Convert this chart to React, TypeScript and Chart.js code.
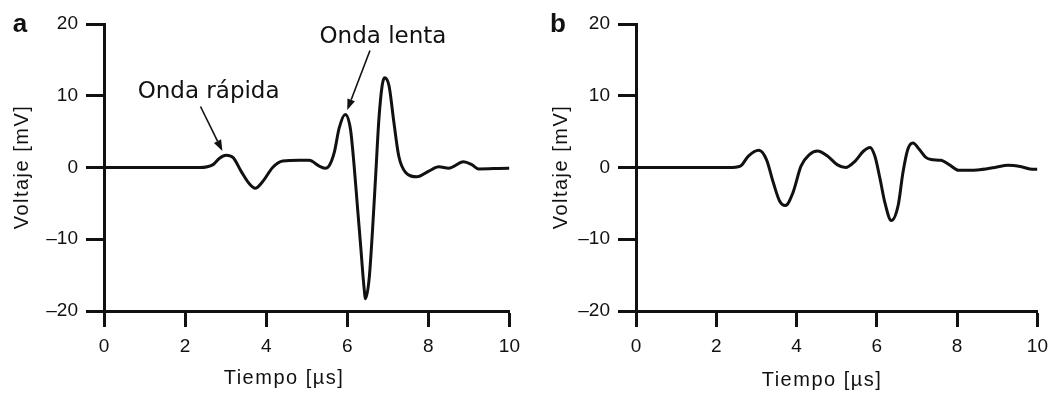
import React, { useEffect, useRef } from "react";
import { Chart, registerables } from "chart.js";

Chart.register(...registerables);

// ---- Data ----
const timeA = [0, 2.36, 2.69, 2.85, 3.01, 3.18, 3.38, 3.59, 3.73, 3.91, 4.16, 4.41, 4.82, 5.06, 5.31, 5.47, 5.55, 5.68, 5.8, 5.95, 6.08, 6.17, 6.25, 6.33, 6.41, 6.45, 6.54, 6.62, 6.7, 6.78, 6.86, 6.92, 7.03, 7.15, 7.27, 7.44, 7.72, 8.01, 8.26, 8.5, 8.87, 9.07, 9.24, 9.98, 10];
const voltA = [0, 0, 0.4, 1.3, 1.7, 1.4, -0.5, -2.3, -2.9, -2.0, 0, 0.9, 1.0, 1.0, 0.2, -0.1, 0.2, 2.1, 5.5, 7.4, 5.3, 0.2, -5.4, -10.9, -16.5, -18.3, -15.5, -9.0, -1.2, 6.7, 11.4, 12.5, 11.4, 6.3, 1.6, -0.7, -1.3, -0.5, 0.1, -0.1, 0.8, 0.4, -0.2, -0.1, -0.1];

const timeB = [0, 2.31, 2.6, 2.8, 3.06, 3.25, 3.42, 3.58, 3.72, 3.91, 4.11, 4.32, 4.52, 4.77, 5.01, 5.22, 5.46, 5.67, 5.83, 5.95, 6.08, 6.2, 6.36, 6.53, 6.65, 6.77, 6.9, 7.06, 7.22, 7.35, 7.6, 7.8, 8.04, 8.5, 8.94, 9.27, 9.6, 9.88, 10];
const voltB = [0, 0, 0.2, 1.6, 2.4, 1.1, -2.1, -4.7, -5.3, -3.5, 0.2, 1.8, 2.3, 1.6, 0.4, 0, 0.9, 2.3, 2.8, 1.6, -1.6, -4.9, -7.4, -5.3, -0.7, 2.5, 3.4, 2.5, 1.4, 1.1, 1.0, 0.4, -0.4, -0.35, 0, 0.3, 0.1, -0.25, -0.25];

const xMin = 0;
const xMax = 10;
const xStep = 2;
const yMin = -20;
const yMax = 20;
const yStep = 10;

const panelLabels = ["a", "b"];
const xTitle = "Tiempo [µs]";
const yTitle = "Voltaje [mV]";

const annotationTextsA = ["Onda rápida", "Onda lenta"];
const annotationTextX = [2.58, 6.88];
const annotationTextY = [9.65, 17.3];
const arrowFromX = [2.38, 6.56];
const arrowFromY = [8.5, 16.3];
const arrowToX = [2.92, 6.0];
const arrowToY = [2.3, 8.0];

// ---- Layout (pixel geometry, per panel) ----
type PanelGeom = {
  left: number;
  right: number;
  top: number;
  bottom: number;
  yTitleX: number;
  yTitleY: number;
  xTitleX: number;
  xTitleY: number;
  labelX: number;
  labelY: number;
};

const W = 528;
const H = 394;
const INK = "#111111";

const geomA: PanelGeom = { left: 104, right: 511, top: 24, bottom: 311, yTitleX: 28, yTitleY: 167, xTitleX: 284, xTitleY: 384, labelX: 20, labelY: 32 };
const geomB: PanelGeom = { left: 108, right: 515, top: 24, bottom: 311, yTitleX: 39, yTitleY: 167, xTitleX: 294, xTitleY: 386, labelX: 30, labelY: 32 };

function fmtTick(v: number | string): string {
  const n = Number(v);
  return n < 0 ? "\u2013" + Math.abs(n) : String(n);
}

type Ann = { text: string; tx: number; ty: number; fx: number; fy: number; ex: number; ey: number };

function Panel(props: { times: number[]; volts: number[]; geom: PanelGeom; label: string; annotations: Ann[]; offsetX: number }) {
  const ref = useRef<HTMLCanvasElement | null>(null);
  useEffect(() => {
    const canvas = ref.current;
    if (!canvas) return;
    const g = props.geom;
    const pts = props.times.map((t, i) => ({ x: t, y: props.volts[i] }));

    const overlay = {
      id: "overlay",
      afterDraw(chart: any) {
        const ctx = chart.ctx as CanvasRenderingContext2D;
        const xs = chart.scales.x;
        const ys = chart.scales.y;
        ctx.save();
        ctx.fillStyle = INK;
        ctx.strokeStyle = INK;
        // panel label
        ctx.font = "bold 26px 'Liberation Sans', Arial, sans-serif";
        ctx.textAlign = "center";
        ctx.textBaseline = "alphabetic";
        ctx.fillText(props.label, g.labelX, g.labelY);
        // axis titles
        (ctx as any).letterSpacing = "1.5px";
        ctx.font = "20px 'Liberation Sans', Arial, sans-serif";
        ctx.fillText(xTitle, g.xTitleX, g.xTitleY);
        ctx.save();
        ctx.translate(g.yTitleX, g.yTitleY);
        ctx.rotate(-Math.PI / 2);
        ctx.fillText(yTitle, 0, 0);
        ctx.restore();
        (ctx as any).letterSpacing = "0px";
        // annotations
        ctx.font = "23px 'DejaVu Sans', sans-serif";
        for (const a of props.annotations) {
          ctx.fillText(a.text, xs.getPixelForValue(a.tx), ys.getPixelForValue(a.ty));
          const x1 = xs.getPixelForValue(a.fx);
          const y1 = ys.getPixelForValue(a.fy);
          const x2 = xs.getPixelForValue(a.ex);
          const y2 = ys.getPixelForValue(a.ey);
          const ang = Math.atan2(y2 - y1, x2 - x1);
          const headLen = 11;
          const headW = 4;
          const bx = x2 - headLen * Math.cos(ang);
          const by = y2 - headLen * Math.sin(ang);
          ctx.lineWidth = 1.6;
          ctx.beginPath();
          ctx.moveTo(x1, y1);
          ctx.lineTo(bx, by);
          ctx.stroke();
          ctx.beginPath();
          ctx.moveTo(x2, y2);
          ctx.lineTo(bx + headW * Math.sin(ang), by - headW * Math.cos(ang));
          ctx.lineTo(bx - headW * Math.sin(ang), by + headW * Math.cos(ang));
          ctx.closePath();
          ctx.fill();
        }
        ctx.restore();
      },
    };

    const chart = new Chart(canvas, {
      type: "line",
      data: {
        datasets: [
          {
            data: pts,
            borderColor: INK,
            borderWidth: 3,
            pointRadius: 0,
            fill: false,
            cubicInterpolationMode: "monotone",
          },
        ],
      },
      options: {
        responsive: false,
        animation: false,
        devicePixelRatio: 1,
        layout: { padding: { left: 0, right: W - g.right, top: g.top, bottom: 0 } },
        plugins: { legend: { display: false }, tooltip: { enabled: false } },
        scales: {
          x: {
            type: "linear",
            min: xMin,
            max: xMax,
            afterFit: (s: any) => {
              s.height = H - g.bottom;
            },
            ticks: {
              stepSize: xStep,
              color: INK,
              font: { family: "'Liberation Sans', Arial, sans-serif", size: 19 },
              padding: 8,
              maxRotation: 0,
              callback: (v: any) => fmtTick(v),
            },
            grid: { drawOnChartArea: false, drawTicks: true, tickLength: 16, tickWidth: 3, tickColor: INK },
            border: { display: true, color: INK, width: 3 },
          },
          y: {
            type: "linear",
            min: yMin,
            max: yMax,
            afterFit: (s: any) => {
              s.width = g.left;
            },
            ticks: {
              stepSize: yStep,
              color: INK,
              font: { family: "'Liberation Sans', Arial, sans-serif", size: 19 },
              padding: 8,
              callback: (v: any) => fmtTick(v),
            },
            grid: { drawOnChartArea: false, drawTicks: true, tickLength: 18, tickWidth: 3, tickColor: INK },
            border: { display: true, color: INK, width: 3 },
          },
        },
      },
      plugins: [overlay],
    } as any);
    return () => chart.destroy();
  }, []);
  return (
    <div style={{ position: "absolute", left: props.offsetX, top: 0, width: W, height: H }}>
      <canvas ref={ref} width={W} height={H} style={{ width: W, height: H, display: "block" }} />
    </div>
  );
}

export default function App() {
  const annA: Ann[] = annotationTextsA.map((t, i) => ({
    text: t,
    tx: annotationTextX[i],
    ty: annotationTextY[i],
    fx: arrowFromX[i],
    fy: arrowFromY[i],
    ex: arrowToX[i],
    ey: arrowToY[i],
  }));
  return (
    <div style={{ position: "absolute", left: 0, top: 0, width: 1056, height: 394, background: "#fff" }}>
      <Panel times={timeA} volts={voltA} geom={geomA} label={panelLabels[0]} annotations={annA} offsetX={0} />
      <Panel times={timeB} volts={voltB} geom={geomB} label={panelLabels[1]} annotations={[]} offsetX={528} />
    </div>
  );
}
